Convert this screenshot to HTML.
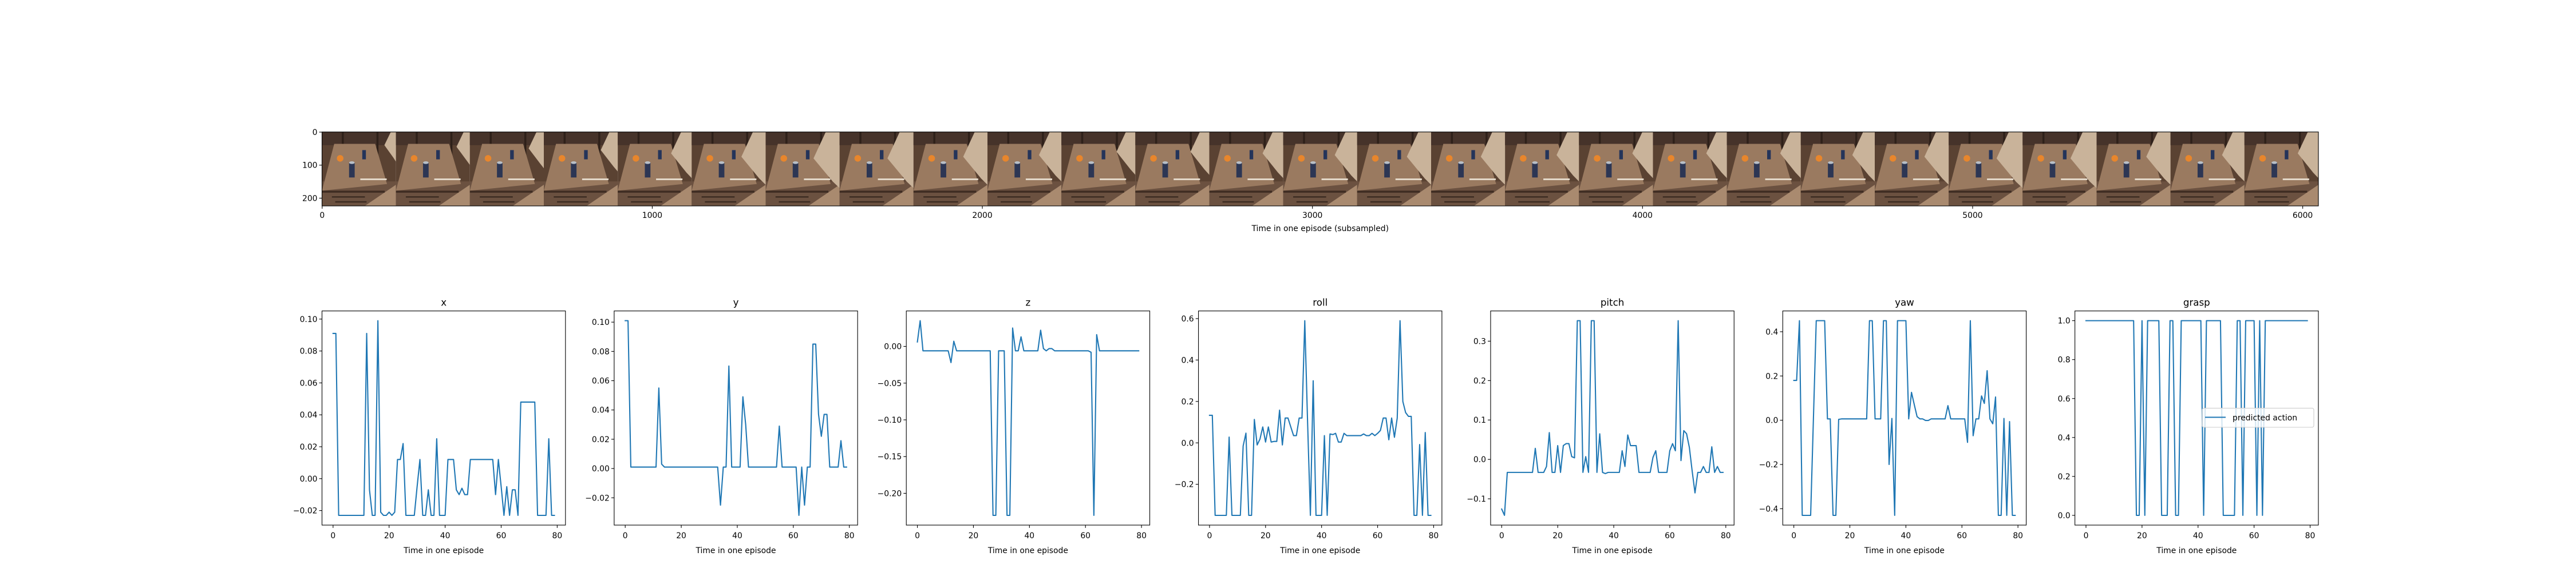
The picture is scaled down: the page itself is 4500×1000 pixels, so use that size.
<!DOCTYPE html>
<html><head><meta charset="utf-8">
<style>
html,body{margin:0;padding:0;background:#fff;}
svg{display:block;font-family:"DejaVu Sans","Liberation Sans",sans-serif;}
</style></head>
<body>
<svg id="fig" width="4500" height="1000" viewBox="0 0 4500 1000" xmlns="http://www.w3.org/2000/svg">
<rect width="4500" height="1000" fill="#fff"/>
<g id="strip"></g>
<g id="plots"></g>
</svg>
<script>
const timeSteps = Array.from({length:80},(_,i)=>i);
const seriesX = [0.091,0.091,-0.023,-0.023,-0.023,-0.023,-0.023,-0.023,-0.023,-0.023,-0.023,-0.023,0.091,-0.007,-0.023,-0.023,0.099,-0.021,-0.023,-0.023,-0.021,-0.023,-0.021,0.012,0.012,0.022,-0.023,-0.023,-0.023,-0.023,-0.005,0.012,-0.023,-0.023,-0.007,-0.023,-0.023,0.025,-0.023,-0.023,-0.023,0.012,0.012,0.012,-0.007,-0.010,-0.006,-0.010,-0.010,0.012,0.012,0.012,0.012,0.012,0.012,0.012,0.012,0.012,-0.010,0.012,-0.005,-0.023,-0.005,-0.023,-0.007,-0.007,-0.023,0.048,0.048,0.048,0.048,0.048,0.048,-0.023,-0.023,-0.023,-0.023,0.025,-0.023,-0.023];
const seriesY = [0.101,0.101,0.001,0.001,0.001,0.001,0.001,0.001,0.001,0.001,0.001,0.001,0.055,0.003,0.001,0.001,0.001,0.001,0.001,0.001,0.001,0.001,0.001,0.001,0.001,0.001,0.001,0.001,0.001,0.001,0.001,0.001,0.001,0.001,-0.025,0.001,0.001,0.070,0.001,0.001,0.001,0.001,0.049,0.030,0.001,0.001,0.001,0.001,0.001,0.001,0.001,0.001,0.001,0.001,0.001,0.029,0.001,0.001,0.001,0.001,0.001,0.001,-0.032,0.001,-0.025,0.001,0.001,0.085,0.085,0.037,0.022,0.037,0.037,0.001,0.001,0.001,0.001,0.019,0.001,0.001];
const seriesZ = [0.006,0.035,-0.006,-0.006,-0.006,-0.006,-0.006,-0.006,-0.006,-0.006,-0.006,-0.006,-0.022,0.007,-0.006,-0.006,-0.006,-0.006,-0.006,-0.006,-0.006,-0.006,-0.006,-0.006,-0.006,-0.006,-0.006,-0.230,-0.230,-0.006,-0.006,-0.006,-0.230,-0.230,0.025,-0.006,-0.006,0.013,-0.006,-0.006,-0.006,-0.006,-0.006,-0.006,0.022,-0.003,-0.006,-0.003,-0.003,-0.006,-0.006,-0.006,-0.006,-0.006,-0.006,-0.006,-0.006,-0.006,-0.006,-0.006,-0.006,-0.006,-0.008,-0.230,0.016,-0.006,-0.006,-0.006,-0.006,-0.006,-0.006,-0.006,-0.006,-0.006,-0.006,-0.006,-0.006,-0.006,-0.006,-0.006];
const seriesRoll = [0.133,0.133,-0.35,-0.35,-0.35,-0.35,-0.35,0.028,-0.35,-0.35,-0.35,-0.35,-0.015,0.047,-0.35,-0.35,0.113,-0.01,0.018,0.077,0.004,0.077,0.004,0.007,0.007,0.158,-0.01,0.12,0.12,0.077,0.035,0.035,0.12,0.12,0.59,0.1,-0.35,0.30,-0.35,-0.35,-0.35,0.035,-0.35,0.043,0.04,0.046,0.004,0.004,0.046,0.035,0.035,0.035,0.035,0.035,0.035,0.043,0.035,0.035,0.046,0.035,0.046,0.06,0.12,0.12,0.015,0.12,0.027,0.12,0.59,0.2,0.146,0.128,0.128,-0.35,-0.35,-0.008,-0.35,0.05,-0.35,-0.35];
const seriesPitch = [-0.126,-0.142,-0.033,-0.033,-0.033,-0.033,-0.033,-0.033,-0.033,-0.033,-0.033,-0.033,0.028,-0.033,-0.033,-0.033,-0.018,0.068,-0.033,-0.033,0.035,-0.033,0.035,0.04,0.04,0.007,0.004,0.352,0.352,-0.033,0.007,-0.033,0.352,0.352,-0.033,0.065,-0.033,-0.036,-0.033,-0.033,-0.033,-0.033,-0.033,0.022,-0.018,0.062,0.035,0.035,0.035,-0.033,-0.033,-0.033,-0.033,-0.033,0.005,0.022,-0.033,-0.033,-0.033,-0.033,0.022,0.04,0.022,0.352,-0.003,0.073,0.065,0.03,-0.03,-0.085,-0.033,-0.033,-0.018,-0.033,-0.033,0.032,-0.033,-0.018,-0.033,-0.033];
const seriesYaw = [0.18,0.18,0.45,-0.43,-0.43,-0.43,-0.43,0.01,0.45,0.45,0.45,0.45,0.006,0.006,-0.43,-0.43,0.004,0.006,0.006,0.006,0.006,0.006,0.006,0.006,0.006,0.006,0.006,0.45,0.45,0.006,0.006,0.006,0.45,0.45,-0.2,0.008,-0.43,0.45,0.45,0.45,0.45,0.006,0.126,0.07,0.016,0.006,0.006,-0.001,-0.001,0.006,0.006,0.006,0.006,0.006,0.006,0.066,0.006,0.006,0.006,0.006,0.006,0.006,-0.1,0.45,-0.07,0.006,0.006,0.11,0.076,0.224,0.006,-0.016,0.105,-0.43,-0.43,0.008,-0.43,-0.006,-0.43,-0.43];
const seriesGrasp = [1,1,1,1,1,1,1,1,1,1,1,1,1,1,1,1,1,1,0,0,1,0,1,1,1,1,1,0,0,0,1,1,0,0,1,1,1,1,1,1,1,1,0,1,1,1,1,1,1,0,0,0,0,0,1,1,0,1,1,1,1,0,1,0,1,1,1,1,1,1,1,1,1,1,1,1,1,1,1,1];
const panelTitles = ["x","y","z","roll","pitch","yaw","grasp"];
const panelSeries = [seriesX,seriesY,seriesZ,seriesRoll,seriesPitch,seriesYaw,seriesGrasp];
const yTicksX = [-0.02,0.00,0.02,0.04,0.06,0.08,0.10];
const yTicksY = [-0.02,0.00,0.02,0.04,0.06,0.08,0.10];
const yTicksZ = [-0.20,-0.15,-0.10,-0.05,0.00];
const yTicksRoll = [-0.2,0.0,0.2,0.4,0.6];
const yTicksPitch = [-0.1,0.0,0.1,0.2,0.3];
const yTicksYaw = [-0.4,-0.2,0.0,0.2,0.4];
const yTicksGrasp = [0.0,0.2,0.4,0.6,0.8,1.0];
const panelYTicks = [yTicksX,yTicksY,yTicksZ,yTicksRoll,yTicksPitch,yTicksYaw,yTicksGrasp];
const panelDecimals = [2,2,2,1,1,1,1];
const xTicks = [0,20,40,60,80];
const stripTicksX = [0,1000,2000,3000,4000,5000,6000];
const stripTicksY = [0,100,200];
const frameCount = 27;
const armSizes = [0.2,0.3,0.4,0.5,0.7,0.9,1,1,0.9,0.8,0.6,0.6,0.7,0.8,0.9,0.9,0.8,0.7,0.7,0.7,0.8,0.9,1,1,0.9,0.8,0.7];

const NS="http://www.w3.org/2000/svg";
function mk(tag,attrs,parent,text){const e=document.createElementNS(NS,tag);for(const k in attrs)e.setAttribute(k,attrs[k]);if(text!==undefined)e.textContent=text;if(parent)parent.appendChild(e);return e;}
function fmt(v,d){const s=Math.abs(v).toFixed(d);return (v<-1e-9?"\u2212":"")+s;}

const strip=document.getElementById('strip');
const SL=562.5,SR=4050,ST=230.7,SB=360;
const frameW=224, frameH=224;
const totalW=frameW*frameCount;
const sx=v=>SL+(v+0.5)*(SR-SL)/totalW;
const sy=v=>ST+(v+0.5)*(SB-ST)/frameH;
const pxScale=(SR-SL)/totalW;
for(let f=0;f<frameCount;f++){
  const g=mk('g',{transform:`translate(${sx(f*frameW-0.5)},${ST}) scale(${pxScale})`},strip);
  
  
  mk('rect',{x:0,y:0,width:224,height:224,fill:'#5a4232'},g);
  mk('rect',{x:0,y:0,width:224,height:40,fill:'#46332a'},g);
  mk('rect',{x:60,y:0,width:6,height:110,fill:'#2e2019'},g);
  mk('rect',{x:165,y:0,width:6,height:120,fill:'#2e2019'},g);
  mk('rect',{x:0,y:150,width:224,height:74,fill:'#6b5140'},g);
  mk('polygon',{points:'130,224 224,160 224,224',fill:'#a98a6f'},g);
  mk('polygon',{points:'37,36 161,36 197,158 0,178',fill:'#9a7a60'},g);
  mk('rect',{x:0,y:178,width:190,height:6,fill:'#3e2c22'},g);
  mk('rect',{x:30,y:195,width:100,height:4,fill:'#3a2a20'},g);
  mk('rect',{x:40,y:210,width:95,height:4,fill:'#3a2a20'},g);
  mk('rect',{x:116,y:141,width:80,height:5,fill:'#e6dccd'},g);
  mk('circle',{cx:55,cy:80,r:10,fill:'#e8862c'},g);
  mk('rect',{x:122,y:55,width:11,height:28,fill:'#24345a'},g);
  mk('rect',{x:82,y:92,width:17,height:46,fill:'#2c3654'},g);
  mk('ellipse',{cx:90.5,cy:93,rx:8.5,ry:4,fill:'#b9c0c8'},g);
  const a=armSizes[f];
  const w=15+55*a;
  mk('polygon',{points:`${224-w*0.6},0 224,0 224,${70+100*a} ${224-w*0.3},${60+90*a} ${215-w},${30+50*a}`,fill:'#c9b39a'},g);
}
mk('rect',{x:SL,y:ST,width:SR-SL,height:SB-ST,fill:'none',stroke:'#000','stroke-width':1.1},strip);
stripTicksX.forEach(t=>{
  const x=sx(t);
  const tk=mk('line',{x1:x,x2:x,y1:SB,y2:SB+4.9,stroke:'#000','stroke-width':1.1},strip);
  
  
  const lb=mk('text',{x:x,y:SB+21,'font-size':13.9,'text-anchor':'middle'},strip,String(t));
  
  
});
stripTicksY.forEach(t=>{
  const y=sy(t);
  mk('line',{x1:SL-4.9,x2:SL,y1:y,y2:y,stroke:'#000','stroke-width':1.1},strip);
  const lb=mk('text',{x:SL-8,y:y+5,'font-size':13.9,'text-anchor':'end'},strip,String(t));
  
  
});
const sxl=mk('text',{x:(SL+SR)/2,y:404,'font-size':13.9,'text-anchor':'middle'},strip,'Time in one episode (subsampled)');



const plots=document.getElementById('plots');
const PL0=562.5, PW=425.3, PSTEP=510.36, PT=543.6, PB=918;
const xmin=-3.95, xmax=82.95;
panelSeries.forEach((data,i)=>{
  const L=PL0+i*PSTEP, R=L+PW;
  const g=mk('g',{},plots);
  
  
  let lo=Math.min(...data), hi=Math.max(...data);
  const r=hi-lo; const ymin=lo-0.05*r, ymax=hi+0.05*r;
  const X=v=>L+(v-xmin)/(xmax-xmin)*PW;
  const Y=v=>PB-(v-ymin)/(ymax-ymin)*(PB-PT);
  const d=timeSteps.map((t,k)=>(k?'L':'M')+X(t).toFixed(2)+','+Y(data[k]).toFixed(2)).join(' ');
  const ln=mk('path',{d:d,fill:'none',stroke:'#1f77b4','stroke-width':2.08,'stroke-linejoin':'round','stroke-linecap':'square'},g);
  
  
  mk('rect',{x:L,y:PT,width:PW,height:PB-PT,fill:'none',stroke:'#000','stroke-width':1.1},g);
  xTicks.forEach(t=>{
    const x=X(t);
    mk('line',{x1:x,x2:x,y1:PB,y2:PB+4.9,stroke:'#000','stroke-width':1.1},g);
    const lb=mk('text',{x:x,y:PB+23,'font-size':13.9,'text-anchor':'middle'},g,String(t));
    
    
  });
  panelYTicks[i].forEach(t=>{
    const y=Y(t);
    mk('line',{x1:L-4.9,x2:L,y1:y,y2:y,stroke:'#000','stroke-width':1.1},g);
    const lb=mk('text',{x:L-8,y:y+5,'font-size':13.9,'text-anchor':'end'},g,fmt(t,panelDecimals[i]));
    
    
  });
  const tt=mk('text',{x:(L+R)/2,y:PT-9,'font-size':16.7,'text-anchor':'middle'},g,panelTitles[i]);
  
  
  const xl=mk('text',{x:(L+R)/2,y:PB+49,'font-size':13.9,'text-anchor':'middle'},g,'Time in one episode');
  
  
  if(i===6){
    const lg=mk('g',{},g);
    
    
    mk('rect',{x:3847,y:713.6,width:195,height:33.4,rx:3,fill:'#fff','fill-opacity':0.8,stroke:'#ccc','stroke-width':1.1},lg);
    const lh=mk('line',{x1:3852,x2:3888,y1:729.5,y2:729.5,stroke:'#1f77b4','stroke-width':2.08},lg);
    
    
    const lt=mk('text',{x:3900,y:735,'font-size':13.9},lg,'predicted action');
    
    
  }
});
</script>
</body></html>
